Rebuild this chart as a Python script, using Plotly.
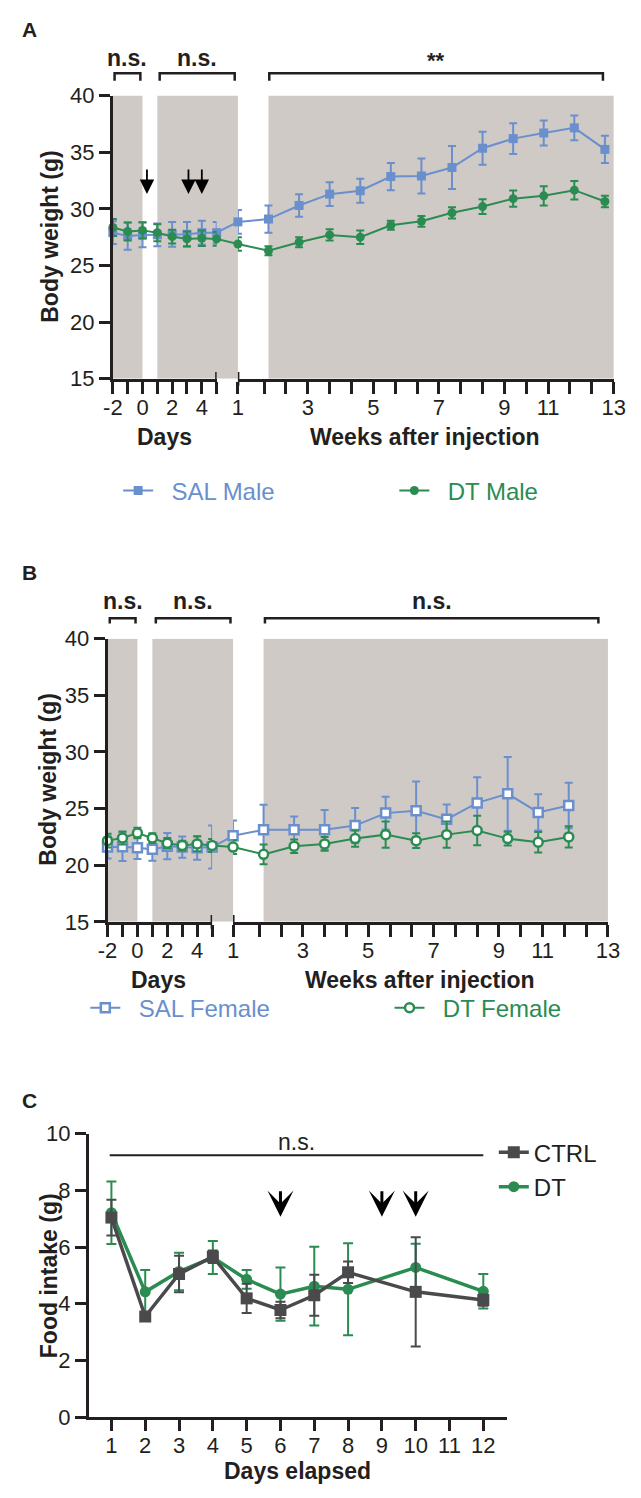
import plotly.graph_objects as go

# ---------------- data ----------------
days = [-2, -1, 0, 1, 2, 3, 4, 5]
weeks_male = [1, 2, 3, 4, 5, 6, 7, 8, 9, 10, 11, 12, 13]
weeks_female = [1, 2, 3, 4, 5, 6, 7, 8, 9, 10, 11, 12]

sal_male_days = [27.9, 27.6, 27.7, 27.7, 27.75, 27.75, 27.9, 27.9]
sal_male_days_err = [1.0, 1.2, 1.1, 1.0, 1.1, 1.1, 1.05, 0.95]
sal_male_weeks = [28.85, 29.1, 30.3, 31.3, 31.6, 32.85, 32.9, 33.65, 35.35, 36.2, 36.7, 37.15, 35.25]
sal_male_weeks_err = [1.05, 1.2, 1.0, 1.05, 1.05, 1.2, 1.55, 1.9, 1.45, 1.35, 1.1, 1.1, 1.2]

dt_male_days = [28.35, 28.0, 28.1, 27.9, 27.55, 27.35, 27.4, 27.35]
dt_male_days_err = [0.75, 0.8, 0.72, 0.75, 0.6, 0.65, 0.68, 0.6]
dt_male_weeks = [26.9, 26.3, 27.05, 27.7, 27.5, 28.55, 28.9, 29.65, 30.2, 30.9, 31.15, 31.65, 30.65]
dt_male_weeks_err = [0.6, 0.4, 0.45, 0.5, 0.6, 0.4, 0.47, 0.5, 0.65, 0.72, 0.85, 0.82, 0.5]

sal_female_days = [21.6, 21.63, 21.54, 21.4, 21.68, 21.6, 21.54, 21.6]
sal_female_days_err = [1.0, 1.26, 1.0, 1.0, 1.16, 0.93, 1.05, 1.9]
sal_female_weeks = [22.6, 23.13, 23.13, 23.13, 23.5, 24.6, 24.8, 24.05, 25.5, 26.3, 24.66, 25.27]
sal_female_weeks_err = [1.35, 2.2, 1.16, 1.74, 1.56, 1.45, 2.6, 1.3, 2.26, 3.25, 1.6, 2.0]

dt_female_days = [22.17, 22.4, 22.84, 22.4, 21.94, 21.74, 21.88, 21.74]
dt_female_days_err = [0.6, 0.58, 0.46, 0.43, 0.46, 0.43, 0.65, 0.58]
dt_female_weeks = [21.6, 20.96, 21.68, 21.88, 22.35, 22.7, 22.17, 22.7, 23.07, 22.35, 22.03, 22.5]
dt_female_weeks_err = [0.6, 0.87, 0.6, 0.6, 0.72, 1.16, 0.65, 1.16, 1.3, 0.6, 0.9, 0.94]

food_days = [1, 2, 3, 4, 5, 6, 7, 8, 10, 12]
ctrl_food = [7.04, 3.55, 5.05, 5.66, 4.19, 3.78, 4.3, 5.11, 4.42, 4.13]
ctrl_food_err = [0.63, 0.12, 0.64, 0.22, 0.52, 0.29, 0.72, 0.38, 1.93, 0.2]
dt_food = [7.21, 4.42, 5.14, 5.63, 4.86, 4.34, 4.62, 4.51, 5.28, 4.44]
dt_food_err = [1.1, 0.77, 0.66, 0.58, 0.33, 0.94, 1.39, 1.62, 0.84, 0.61]

day_ticks = [-2, -1, 0, 1, 2, 3, 4, 5]
day_ticklabels = ["-2", "", "0", "", "2", "", "4", ""]
week_tick_days = [7, 13, 18, 23, 28, 33, 38, 43, 48, 53, 58, 63, 68, 73, 78, 83, 88, 93]
week_ticklabels = ["1", "", "", "3", "", "", "5", "", "", "7", "", "", "9", "", "11", "", "", "13"]
food_ticks = list(range(1, 13))
weight_ticks = [15, 20, 25, 30, 35, 40]
food_yticks = [0, 2, 4, 6, 8, 10]

# ---------------- style ----------------
W, H = 641, 1498
FONT = "Liberation Sans, Arial, Helvetica, sans-serif"
INK = "#231f20"
BLUE = "#6a8fcd"
GREEN = "#2b8c52"
GREY = "#4a4a4c"
SHADE = "#d0cac7"


def px_x(v):
    return v / W


def px_y(v):
    return 1 - v / H


def to_paper(dom, rng, v):
    return px_x(dom[0] + (v - rng[0]) / (rng[1] - rng[0]) * (dom[1] - dom[0]))


DAY_RANGE = [-2, 5]
WEEK_RANGE = [1, 93 / 7]

fig = go.Figure()
layout = {}
shapes = []
annotations = []


def axis_common():
    return dict(showgrid=False, zeroline=False, showline=True, linecolor=INK, linewidth=3,
                ticks="outside", tickcolor=INK, tickwidth=3,
                tickfont=dict(family=FONT, size=22, color=INK))


def add_series(x, y, err, xa, ya, color, symbol, fill, size, lw, mlw, cap, legend=None, name=None):
    fig.add_trace(go.Scatter(
        x=x, y=y, mode="lines+markers", xaxis=xa, yaxis=ya, cliponaxis=False,
        line=dict(color=color, width=lw),
        marker=dict(symbol=symbol, size=size, color=fill, line=dict(color=color, width=mlw)),
        error_y=dict(type="data", array=err, color=color, thickness=2, width=cap),
        showlegend=legend is not None, legend=legend if legend else "legend", name=name or "",
    ))


def weight_panel(k, days_dom, weeks_dom, y_top, y_bot, series, shade_regions, brackets, br_top, br_leg, br_text):
    xd, xw, yy = 2 * k - 1, 2 * k, k
    xd_name = "x" if xd == 1 else f"x{xd}"
    xw_name = f"x{xw}"
    y_name = "y" if yy == 1 else f"y{yy}"
    layout["xaxis" if xd == 1 else f"xaxis{xd}"] = dict(
        axis_common(), domain=[px_x(days_dom[0]), px_x(days_dom[1])], range=DAY_RANGE, anchor=y_name,
        tickmode="array", tickvals=day_ticks, ticktext=day_ticklabels, ticklen=12, ticklabelstandoff=-5)
    layout[f"xaxis{xw}"] = dict(
        axis_common(), domain=[px_x(weeks_dom[0]), px_x(weeks_dom[1])], range=WEEK_RANGE, anchor=y_name,
        tickmode="array", tickvals=[d / 7 for d in week_tick_days], ticktext=week_ticklabels, ticklen=12,
        ticklabelstandoff=-5)
    layout["yaxis" if yy == 1 else f"yaxis{yy}"] = dict(
        axis_common(), domain=[px_y(y_bot), px_y(y_top)], range=[15, 40], anchor=xd_name,
        tickmode="array", tickvals=weight_ticks, ticklen=11)

    def conv(kind, v):
        return to_paper(days_dom, DAY_RANGE, v) if kind == "d" else to_paper(weeks_dom, WEEK_RANGE, v)

    for (k0, v0, k1, v1) in shade_regions:
        shapes.append(dict(type="rect", xref="paper", yref=y_name, x0=conv(k0, v0), x1=conv(k1, v1),
                           y0=15, y1=40, fillcolor=SHADE, line=dict(width=0), layer="below"))
    for s in series:
        # connector across the axis break (last day -> first week)
        shapes.append(dict(type="line", xref="paper", yref=y_name,
                           x0=conv("d", days[-1]), y0=s["days"][-1],
                           x1=conv("w", s["weeks_x"][0]), y1=s["weeks"][0],
                           line=dict(color=s["color"], width=2), layer="below"))
        add_series(days, s["days"], s["days_err"], xd_name, y_name, s["color"], s["symbol"], s["fill"],
                   s["size"], 2, s["mlw"], 4)
        add_series(s["weeks_x"], s["weeks"], s["weeks_err"], xw_name, y_name, s["color"], s["symbol"],
                   s["fill"], s["size"], 2, s["mlw"], 4, legend=s["legend"], name=s["name"])
    # axis break marks
    for xr, v in ((xd_name, DAY_RANGE[1]), (xw_name, WEEK_RANGE[0])):
        shapes.append(dict(type="line", xref=xr, yref="paper", x0=v, x1=v,
                           y0=px_y(y_bot - 7), y1=px_y(y_bot + 7), line=dict(color=INK, width=3), layer="above"))
    # significance brackets
    for (x0, x1, txt, tsize) in brackets:
        path = (f"M{px_x(x0)},{px_y(br_leg)} L{px_x(x0)},{px_y(br_top)} "
                f"L{px_x(x1)},{px_y(br_top)} L{px_x(x1)},{px_y(br_leg)}")
        shapes.append(dict(type="path", xref="paper", yref="paper", path=path,
                           line=dict(color=INK, width=2.5), layer="above"))
        annotations.append(dict(xref="paper", yref="paper", x=px_x((x0 + x1) / 2),
                                y=px_y(br_text + (2 if txt == "**" else 0)),
                                text=f"<b>{txt}</b>", showarrow=False, xanchor="center", yanchor="middle",
                                font=dict(family=FONT, size=tsize, color=INK)))


# ---------- Panel A ----------
A_days_dom, A_weeks_dom = (106.5, 214.0), (236.0, 625.1)
weight_panel(
    1, A_days_dom, A_weeks_dom, 85.0, 373.0,
    [dict(days=sal_male_days, days_err=sal_male_days_err, weeks=sal_male_weeks, weeks_err=sal_male_weeks_err,
          weeks_x=weeks_male, color=BLUE, symbol="square", fill=BLUE, size=9, mlw=0, legend="legend",
          name="\u00a0\u00a0SAL Male"),
     dict(days=dt_male_days, days_err=dt_male_days_err, weeks=dt_male_weeks, weeks_err=dt_male_weeks_err,
          weeks_x=weeks_male, color=GREEN, symbol="circle", fill=GREEN, size=9, mlw=0, legend="legend2",
          name="\u00a0\u00a0DT Male")],
    [("d", -2, "d", 0), ("d", 1, "w", 1), ("w", 2, "w", WEEK_RANGE[1])],
    [(108.3, 135.0, "n.s.", 23), (155.0, 232.7, "n.s.", 23), (268.5, 614.0, "**", 22)],
    62.3, 70.0, 47.0)

# ---------- Panel B ----------
B_days_dom, B_weeks_dom = (101.0, 209.3), (231.0, 619.2)
weight_panel(
    2, B_days_dom, B_weeks_dom, 637.3, 925.3,
    [dict(days=sal_female_days, days_err=sal_female_days_err, weeks=sal_female_weeks,
          weeks_err=sal_female_weeks_err, weeks_x=weeks_female, color=BLUE, symbol="square", fill="white",
          size=9, mlw=2.5, legend="legend3", name="\u00a0\u00a0SAL Female"),
     dict(days=dt_female_days, days_err=dt_female_days_err, weeks=dt_female_weeks, weeks_err=dt_female_weeks_err,
          weeks_x=weeks_female, color=GREEN, symbol="circle", fill="white", size=9, mlw=2.5, legend="legend4",
          name="\u00a0\u00a0DT Female")],
    [("d", -2, "d", 0), ("d", 1, "w", 1), ("w", 2, "w", WEEK_RANGE[1])],
    [(103.3, 130.0, "n.s.", 23), (151.0, 228.3, "n.s.", 23), (264.0, 609.3, "n.s.", 23)],
    616.5, 622.0, 599.0)

# ---------- Panel C ----------
C_x_dom, C_y_top, C_y_bot = (81.7, 515.0), 1140.7, 1429.0
layout["xaxis5"] = dict(axis_common(), domain=[px_x(C_x_dom[0]), px_x(C_x_dom[1])], range=[0.334, 12.71],
                        anchor="y3", tickmode="array", tickvals=food_ticks, ticklen=11, ticklabelstandoff=-5)
layout["yaxis3"] = dict(axis_common(), domain=[px_y(C_y_bot), px_y(C_y_top)], range=[0, 10], anchor="x5",
                        tickmode="array", tickvals=food_yticks, ticklen=11)
add_series(food_days, dt_food, dt_food_err, "x5", "y3", GREEN, "circle", GREEN, 11, 3.5, 0, 5,
           legend="legend6", name="DT")
add_series(food_days, ctrl_food, ctrl_food_err, "x5", "y3", GREY, "square", GREY, 12, 3.5, 0, 5,
           legend="legend5", name="CTRL")
shapes.append(dict(type="line", xref="x5", yref="y3", x0=0.95, x1=12.0, y0=9.24, y1=9.24,
                   line=dict(color=INK, width=2)))
annotations.append(dict(xref="x5", yref="y3", x=6.48, y=9.72, text="n.s.", showarrow=False,
                        font=dict(family=FONT, size=23, color=INK)))
for d in (6, 9, 10):
    annotations.append(dict(xref="x5", yref="y3", x=d, y=7.07, ax=0, ay=-27, text="", showarrow=True,
                            arrowhead=3, arrowsize=1.45, arrowwidth=3, arrowcolor="black"))

# arrows in panel A (injection days)
for d in (0.3, 3.1, 4.0):
    annotations.append(dict(xref="x", yref="y", x=d, y=31.32, ax=0, ay=-26, text="", showarrow=True,
                            arrowhead=2, arrowsize=1.6, arrowwidth=1.8, arrowcolor="black"))

# ---------- text labels ----------
def label(x, y, text, size=23, bold=True, angle=0, color=INK, xanchor="center"):
    annotations.append(dict(xref="paper", yref="paper", x=px_x(x), y=px_y(y),
                            text=f"<b>{text}</b>" if bold else text, showarrow=False, textangle=angle,
                            xanchor=xanchor, yanchor="middle", font=dict(family=FONT, size=size, color=color)))


label(20, 18, "A", size=21)
label(20, 570, "B", size=21)
label(20, 1107, "C", size=21)
label(42, 229, "Body weight (g)", angle=-90)
label(39, 781, "Body weight (g)", angle=-90)
label(40, 1285, "Food intake (g)", angle=-90)
label(160, 432, "Days")
label(430, 432, "Weeks after injection")
label(154, 984, "Days")
label(425, 984, "Weeks after injection")
label(298, 1484, "Days elapsed")


def leg(x, y, color):
    return dict(x=px_x(x), y=px_y(y), xanchor="left", yanchor="middle", bgcolor="rgba(0,0,0,0)",
                borderwidth=0, font=dict(family=FONT, size=24, color=color), itemclick=False,
                itemdoubleclick=False)


layout["legend"] = leg(112, 487, BLUE)
layout["legend2"] = leg(398, 487, GREEN)
layout["legend3"] = leg(78, 1013, BLUE)
layout["legend4"] = leg(393, 1013, GREEN)
layout["legend5"] = leg(501, 1160, INK)
layout["legend6"] = leg(501, 1195, INK)

fig.update_layout(
    width=W, height=H, autosize=False, margin=dict(l=0, r=0, t=0, b=0, pad=0),
    paper_bgcolor="white", plot_bgcolor="rgba(0,0,0,0)",
    font=dict(family=FONT, color=INK, size=22),
    shapes=shapes, annotations=annotations, showlegend=True, **layout,
)

fig.write_html("out.html", include_plotlyjs=True, full_html=True,
               config={"displayModeBar": False, "responsive": False})
